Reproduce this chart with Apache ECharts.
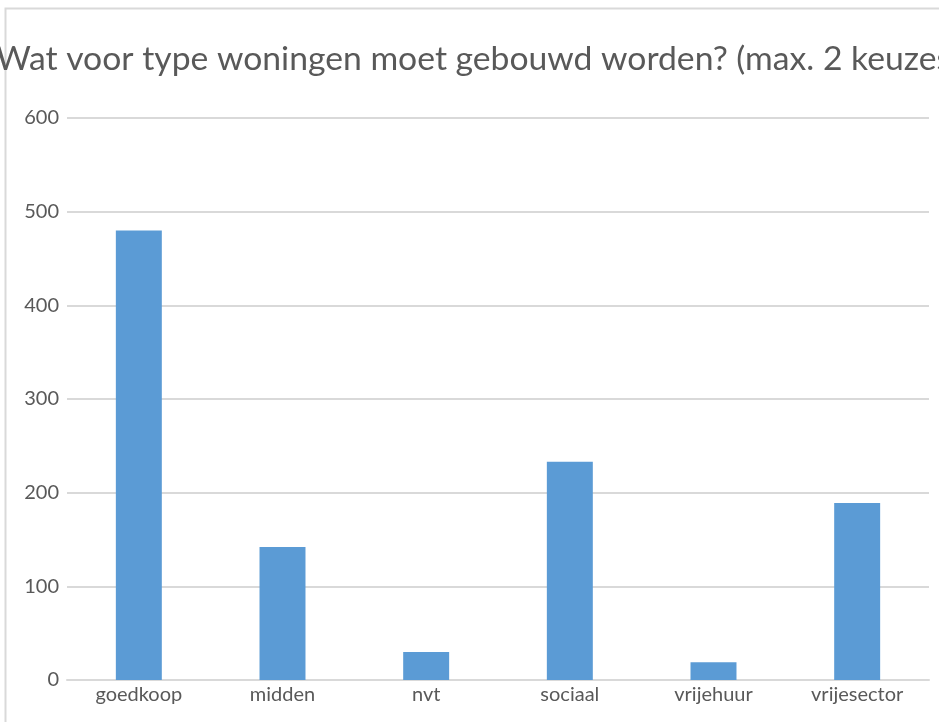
<!DOCTYPE html>
<html>
<head>
<meta charset="utf-8">
<script src="https://cdn.jsdelivr.net/npm/echarts@6/dist/echarts.min.js"></script>
<style>
	html, body { margin: 0; padding: 0; background: #fff; }
	#bar { width: 939px; height: 722px; }
</style>
</head>
<body>
<div id="bar"></div>
<script>
	var chartTitle = 'Wat voor type woningen moet gebouwd worden? (max. 2 keuzes)'
	var categories = ['goedkoop', 'midden', 'nvt', 'sociaal', 'vrijehuur', 'vrijesector']
	var counts = [480, 142, 30, 233, 19, 189]

	var textColor = '#595959'
	var barChart = echarts.init(document.getElementById('bar'))

	var option = {
		backgroundColor: '#ffffff',
		animation: false,
		title: {
			text: chartTitle,
			left: -4,
			top: 42,
			padding: 0,
			textStyle: {
				fontFamily: 'Lato',
				fontSize: 33.7,
				fontWeight: 'normal',
				color: textColor
			}
		},
		// chart area border (Excel style)
		graphic: [
			{
				type: 'rect',
				shape: { x: 5.5, y: 8.5, width: 1000, height: 800 },
				style: { fill: 'none', stroke: '#d9d9d9', lineWidth: 2 },
				silent: true
			}
		],
		grid: {
			left: 67,
			right: 10,
			top: 118,
			bottom: 42
		},
		xAxis: {
			type: 'category',
			data: categories,
			axisLine: { lineStyle: { color: '#d9d9d9', width: 2 } },
			axisTick: { show: false },
			axisLabel: {
				fontFamily: 'Lato',
				fontSize: 20,
				color: textColor,
				margin: 5
			}
		},
		yAxis: {
			type: 'value',
			min: 0,
			max: 600,
			interval: 100,
			axisLine: { show: false },
			axisTick: { show: false },
			splitLine: { lineStyle: { color: '#d9d9d9', width: 2 } },
			axisLabel: {
				fontFamily: 'Lato',
				fontSize: 20,
				color: textColor,
				margin: 8
			}
		},
		series: [
			{
				name: 'counts',
				type: 'bar',
				data: counts,
				barWidth: '32%',
				itemStyle: { color: '#5b9bd5' }
			}
		]
	}

	barChart.setOption(option)
</script>
</body>
</html>
